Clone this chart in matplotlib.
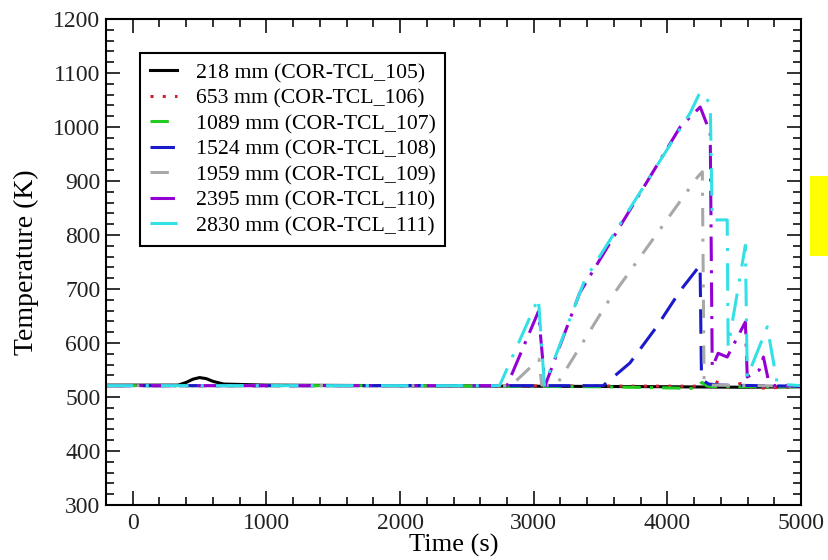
import numpy as np
import matplotlib
matplotlib.use("Agg")
import matplotlib.pyplot as plt
from matplotlib.patches import Rectangle
from matplotlib.ticker import MultipleLocator

plt.rcParams['font.family'] = ['Liberation Serif', 'DejaVu Serif']

# thermocouple histories, time (s) / temperature (K)
t_105 = [-200, 340, 400, 450, 500, 550, 600, 680, 1000, 2000, 3000, 4000, 4600, 5000]
T_105 = [522, 522, 527, 533, 536, 534, 529, 524, 522, 521, 520, 519, 518, 519]

t_106 = [-200, 2000, 4200, 4300, 4350, 4450, 4550, 4650, 5000]
T_106 = [521, 521, 520, 522, 530, 518, 525, 516, 519]

t_107 = [-200, 2000, 3500, 4200, 4260, 4300, 4400, 5000]
T_107 = [521, 521, 519, 516, 527, 520, 519, 519]

t_108 = [-200, 3520, 3720, 3920, 4100, 4245, 4255, 4270, 4310, 4400, 5000]
T_108 = [521, 521, 563, 630, 698, 744, 544, 530, 524, 522, 520]

t_109 = [-200, 2830, 3040, 3060, 3170, 3550, 4225, 4262, 4275, 4330, 5000]
T_109 = [521, 521, 570, 522, 522, 674, 907, 917, 525, 522, 520]

t_110 = [-200, 2800, 3035, 3085, 3345, 4096, 4246, 4321, 4336, 4380, 4448,
         4584, 4598, 4688, 4719, 4756, 4800, 5000]
T_110 = [521, 521, 658, 521, 693, 1000, 1037, 989, 555, 581, 574,
         639, 537, 550, 574, 531, 521, 521]

t_111 = [-200, 2745, 3035, 3080, 3383, 4171, 4246, 4321, 4336, 4448, 4455,
         4584, 4598, 4748, 4823, 5000]
T_111 = [521, 521, 683, 522, 717, 1026, 1065, 1044, 828, 828, 593,
         781, 537, 630, 524, 521]

labels = ["218 mm (COR-TCL_105)", "653 mm (COR-TCL_106)", "1089 mm (COR-TCL_107)",
          "1524 mm (COR-TCL_108)", "1959 mm (COR-TCL_109)", "2395 mm (COR-TCL_110)",
          "2830 mm (COR-TCL_111)"]

series = [(t_105, T_105), (t_106, T_106), (t_107, T_107), (t_108, T_108),
          (t_109, T_109), (t_110, T_110), (t_111, T_111)]
colors = ['black', '#d02030', '#22cc22', '#1a1acc', '#a8a8a8', '#9400d3', '#33e0e6']
styles = ['-', (0, (1, 3)), (0, (6, 3, 1, 3)), (0, (8, 4)),
          (0, (6, 4, 1, 4)), (0, (8, 3, 1, 3)), (0, (9, 4, 1, 4))]

fig = plt.figure(figsize=(8.29, 5.6), dpi=100)
ax = fig.add_axes([0.1279, 0.0982, 0.8383, 0.8679])

for (t, T), c, ls, lab in zip(series, colors, styles, labels):
    ax.plot(t, T, color=c, linestyle=ls, linewidth=2.2, label=lab)

ax.set_xlim(-200, 5000)
ax.set_ylim(300, 1200)
ax.xaxis.set_major_locator(MultipleLocator(1000))
ax.xaxis.set_minor_locator(MultipleLocator(200))
ax.yaxis.set_major_locator(MultipleLocator(100))
ax.yaxis.set_minor_locator(MultipleLocator(20))
ax.tick_params(which='both', direction='in', top=True, right=True, width=1.3,
               labelsize=17, colors='#222222')
ax.tick_params(which='major', length=10)
ax.tick_params(which='minor', length=5.5)
ax.tick_params(axis='x', pad=6)
ax.tick_params(axis='y', pad=4)
for sp in ax.spines.values():
    sp.set_linewidth(1.5)

ax.set_xlabel("Time (s)", fontsize=19, labelpad=0)
ax.set_ylabel("Temperature (K)", fontsize=20, labelpad=10)

leg = ax.legend(loc='upper left', bbox_to_anchor=(0.049, 0.930), borderaxespad=0,
                fontsize=15.7, handlelength=1.25, handletextpad=0.85,
                labelspacing=0.24, fancybox=False, framealpha=1,
                edgecolor='black', borderpad=0.45)
leg.get_frame().set_linewidth(1.5)

# yellow marker box at the right edge
fig.patches.append(Rectangle((810 / 829, 1 - 256 / 560), 19 / 829, 80 / 560,
                             transform=fig.transFigure, facecolor='#ffff00',
                             edgecolor='none'))

fig.savefig("out.png", dpi=100)
